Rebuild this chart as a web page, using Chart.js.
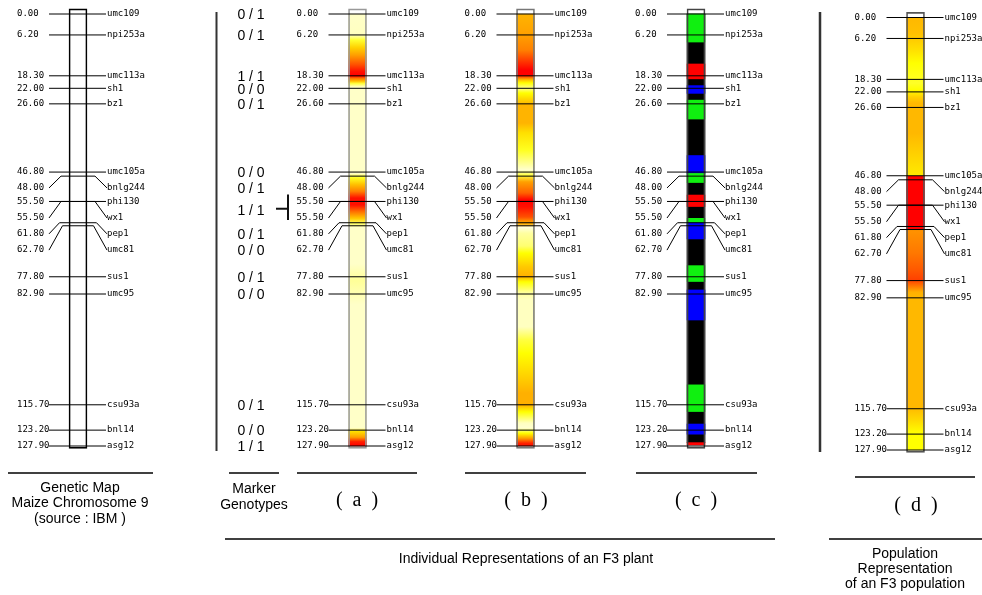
<!DOCTYPE html>
<html>
<head>
<meta charset="utf-8">
<script src="https://cdn.jsdelivr.net/npm/chart.js@4/dist/chart.umd.min.js"></script>
<style>
    html, body { margin: 0; padding: 0; background: #fff; }
    #map { display: block; }
</style>
</head>
<body>
<canvas id="map" width="982" height="595"></canvas>
<script>
// Maize chromosome 9 markers (IBM map), positions in cM
const markerNames = ['umc109', 'npi253a', 'umc113a', 'sh1', 'bz1', 'umc105a', 'bnlg244', 'phi130',
    'wx1', 'pep1', 'umc81', 'sus1', 'umc95', 'csu93a', 'bnl14', 'asg12'];
const markerCm = [0.0, 6.2, 18.3, 22.0, 26.6, 46.8, 48.0, 55.5, 55.5, 61.8, 62.7, 77.8, 82.9, 115.7, 123.2, 127.9];
// label rows get pushed down where markers crowd together
const labelCm = [0.0, 6.2, 18.3, 22.0, 26.6, 46.8, 51.5, 55.5, 60.4, 65.1, 69.9, 77.8, 82.9, 115.7, 123.2, 127.9];

// F3 plant genotype per marker (wx1 shares the call with phi130)
const genotypes = ['0 / 1', '0 / 1', '1 / 1', '0 / 0', '0 / 1', '0 / 0', '0 / 1', '1 / 1',
    null, '0 / 1', '0 / 0', '0 / 1', '0 / 0', '0 / 1', '0 / 0', '1 / 1'];

// (c) genotype blocks along the chromosome, the rest is unresolved (black)
const blockStart = [0.0, 14.8, 21.2, 25.5, 41.9, 47.2, 53.6, 60.5, 61.8, 74.5, 81.7, 109.8, 121.4, 126.9];
const blockEnd = [8.3, 19.2, 23.5, 31.1, 47.2, 49.9, 57.0, 61.8, 66.6, 79.2, 90.6, 117.7, 124.4, 127.6];
const blockCall = ['0 / 1', '1 / 1', '0 / 0', '0 / 1', '0 / 0', '0 / 1', '1 / 1', '0 / 1', '0 / 0',
    '0 / 1', '0 / 0', '0 / 1', '0 / 0', '1 / 1'];
const unresolvedEnd = 126.9;

// colour ramps for (a), (b), (d): [cM, colour]
const shadeA = [[0, '#ffffc8'], [6.2, '#ffffc0'], [7.7, '#ffff30'], [10, '#ffd000'], [12.1, '#ffa000'],
    [15, '#ff5000'], [17, '#ff1000'], [18.3, '#ff0000'], [19.0, '#ff7000'], [19.9, '#ffc000'],
    [20.6, '#ffff40'], [21.6, '#ffffc8'], [47.2, '#ffffc8'], [48.5, '#ffff20'], [50.5, '#ffc000'],
    [52.5, '#ff8000'], [54.5, '#ff1000'], [56.5, '#ff1000'], [58.5, '#ff7000'], [60.5, '#ffc800'],
    [62, '#ffff60'], [63.2, '#ffffc8'], [74, '#ffffc8'], [79, '#ffff98'], [86, '#ffffc8'],
    [122.6, '#ffffc8'], [123.6, '#ffe000'], [125.3, '#ffa000'], [126.6, '#ff2000'], [127.9, '#ff0000']];
const shadeB = [[0, '#ffb400'], [6.2, '#ffa000'], [10.7, '#ff8000'], [13.6, '#ff4000'], [16.6, '#ff0000'],
    [18.0, '#ff0000'], [18.7, '#ff6000'], [19.5, '#ffc000'], [20.4, '#ffff00'], [22.0, '#ffff90'],
    [23.4, '#ffff00'], [25.5, '#ffd000'], [26.9, '#ffb400'], [32.3, '#ffb400'], [35.2, '#ffe000'],
    [40.3, '#ffff20'], [44.1, '#ffff90'], [46.2, '#ffffd0'], [47.7, '#ffff40'], [49.7, '#ffa000'],
    [53.0, '#ff6000'], [55.1, '#ff0000'], [57.1, '#ff1000'], [60.1, '#ff5000'], [61.6, '#ffa000'],
    [62.2, '#ffb000'], [63.1, '#ffffe0'], [64.9, '#ffffa0'], [68.7, '#ffff70'], [70.8, '#ffff00'],
    [74.9, '#ffc800'], [77.8, '#ffb000'], [79.3, '#ffff00'], [82.6, '#ffffa0'], [84.7, '#ffffc0'],
    [92.6, '#ffffc0'], [96.5, '#ffff40'], [100.4, '#ffff00'], [107.5, '#ffd000'], [112.2, '#ffb000'],
    [115.7, '#ffb000'], [117.8, '#ffff00'], [121.1, '#ffffc0'], [122.6, '#ffffd0'], [124.1, '#ffff00'],
    [125.6, '#ffa000'], [127.1, '#ff2000'], [127.9, '#ff1000']];
const shadeD = [[0, '#ffb800'], [4.6, '#ffc000'], [9.6, '#ffe000'], [13.5, '#ffff00'], [19.4, '#ffff28'],
    [21.4, '#ffff00'], [23.5, '#ffd000'], [25.3, '#ffb800'], [34.2, '#ffb800'], [44.2, '#ffe000'],
    [46.7, '#ffe800'], [46.9, '#ff0000'], [62.4, '#ff0000'], [62.6, '#ff9400'], [69.6, '#ff7800'],
    [74.7, '#ff5800'], [77.6, '#ff4000'], [79.7, '#ff8000'], [81.2, '#ffb000'], [83, '#ffb800'],
    [115.2, '#ffb800'], [119, '#ffd800'], [122.9, '#ffff00'], [127.9, '#ffff00']];

const callColours = { '0 / 1': '#10f010', '1 / 1': '#ff0000', '0 / 0': '#0000ff' };

// layout
const panels = [
    { cx: 78, axis: 'y', edge: '#000000' },
    { cx: 357.5, axis: 'y', edge: '#999999', shade: shadeA },
    { cx: 525.5, axis: 'y', edge: '#777777', shade: shadeB },
    { cx: 696, axis: 'y', edge: '#444444' },
    { cx: 915.5, axis: 'y2', edge: '#555555', shade: shadeD }
];
const bendHalf = { bnlg244: 17, wx1: 17, pep1: 18.5, umc81: 15.5 };
const pxPerCm = 432 / 127.9;
const pxPerCm2 = 432.5 / 127.9;

function markerLinePoints(cx) {
    const pts = [];
    markerNames.forEach((name, i) => {
        const cm = markerCm[i];
        const lab = labelCm[i];
        if (lab === cm) {
            pts.push({ x: cx - 29, y: cm }, { x: cx + 28, y: cm });
        } else {
            const h = bendHalf[name];
            pts.push({ x: cx - 29, y: lab }, { x: cx - h, y: cm }, { x: cx + h, y: cm }, { x: cx + 29, y: lab });
        }
        pts.push({ x: NaN, y: NaN });
    });
    return pts;
}

function shade(stops, axisId) {
    return (context) => {
        const chart = context.chart;
        const scale = chart.scales[axisId];
        if (!chart.chartArea || !scale) return stops[0][1];
        const top = scale.getPixelForValue(stops[0][0]);
        const bottom = scale.getPixelForValue(stops[stops.length - 1][0]);
        const g = chart.ctx.createLinearGradient(0, top, 0, bottom);
        stops.forEach(([cm, col]) => {
            g.addColorStop((scale.getPixelForValue(cm) - top) / (bottom - top), col);
        });
        return g;
    };
}

const barBase = { type: 'bar', barThickness: 18, grouped: false, borderSkipped: false };
const datasets = [];

panels.forEach((p) => {
    // marker ticks
    datasets.push({
        type: 'line', yAxisID: p.axis, order: 0,
        data: markerLinePoints(p.cx),
        borderColor: '#000', borderWidth: 1, pointRadius: 0, spanGaps: false, fill: false
    });
    // chromosome outline
    datasets.push(Object.assign({}, barBase, {
        yAxisID: p.axis, order: 1,
        data: [{ x: p.cx, y: [-1.5, 128.6] }],
        backgroundColor: 'rgba(0,0,0,0)', borderColor: p.edge, borderWidth: 1
    }));
    if (p.shade) {
        datasets.push(Object.assign({}, barBase, {
            yAxisID: p.axis, order: 3,
            data: [{ x: p.cx, y: [p.shade[0][0], p.shade[p.shade.length - 1][0]] }],
            backgroundColor: shade(p.shade, p.axis), borderWidth: 0
        }));
    }
});

// (c): unresolved stretch, then genotype blocks on top
const pc = panels[3];
datasets.push(Object.assign({}, barBase, {
    yAxisID: 'y', order: 3,
    data: [{ x: pc.cx, y: [0, unresolvedEnd] }],
    backgroundColor: '#000', borderWidth: 0
}));
datasets.push(Object.assign({}, barBase, {
    yAxisID: 'y', order: 2,
    data: blockStart.map((s, i) => ({ x: pc.cx, y: [s, blockEnd[i]] })),
    backgroundColor: blockCall.map(c => callColours[c]), borderWidth: 0
}));

function line(ctx, x1, y1, x2, y2, w, col) {
    ctx.beginPath();
    ctx.lineWidth = w;
    ctx.strokeStyle = col;
    ctx.moveTo(x1, y1);
    ctx.lineTo(x2, y2);
    ctx.stroke();
}

const figureText = {
    id: 'figureText',
    afterDatasetsDraw(chart) {
        const ctx = chart.ctx;
        const y = chart.scales.y;
        const y2 = chart.scales.y2;
        ctx.save();
        ctx.fillStyle = '#000';
        ctx.textBaseline = 'middle';

        // cM values and marker names beside each chromosome
        ctx.font = '9px "DejaVu Sans Mono"';
        ctx.textAlign = 'left';
        panels.forEach((p) => {
            const s = chart.scales[p.axis];
            markerNames.forEach((name, i) => {
                const py = s.getPixelForValue(labelCm[i]);
                ctx.fillText(markerCm[i].toFixed(2), p.cx - 61, py);
                ctx.fillText(name, p.cx + 29, py);
            });
        });

        // marker genotype column
        line(ctx, 216.5, 12, 216.5, 451, 2, '#333');
        ctx.font = '14px "Liberation Sans", Arial, sans-serif';
        ctx.textAlign = 'center';
        genotypes.forEach((g, i) => {
            if (g === null) return;
            let cm = labelCm[i];
            if (genotypes[i + 1] === null) {
                cm = (labelCm[i] + labelCm[i + 1]) / 2;
                const top = y.getPixelForValue(labelCm[i]) - 7;
                const bot = y.getPixelForValue(labelCm[i + 1]) + 2;
                const mid = y.getPixelForValue(cm) - 1;
                line(ctx, 288, top, 288, bot, 2, '#111');
                line(ctx, 276, mid, 288, mid, 2, '#111');
            }
            ctx.fillText(g, 251, y.getPixelForValue(cm) + 1.5);
        });

        // population panel rule
        line(ctx, 820, y2.getPixelForValue(-1.6), 820, y2.getPixelForValue(128.5), 2.5, '#333');

        // captions
        [[8, 153, 473], [229, 279, 473], [297, 417, 473], [465, 586, 473], [636, 757, 473],
         [855, 975, 477], [225, 775, 539], [829, 982, 539]].forEach(([a, b, h]) => line(ctx, a, h, b, h, 1.5, '#000'));

        ctx.font = '14px "Liberation Sans", Arial, sans-serif';
        ctx.fillText('Genetic Map', 80, 488);
        ctx.fillText('Maize Chromosome 9', 80, 503);
        ctx.fillText('(source : IBM )', 80, 519);
        ctx.fillText('Marker', 254, 489);
        ctx.fillText('Genotypes', 254, 505);
        ctx.fillText('Individual Representations of an F3 plant', 526, 559);
        ctx.fillText('Population', 905, 554);
        ctx.fillText('Representation', 905, 569);
        ctx.fillText('of an F3 population', 905, 584);

        ctx.font = '20px "Liberation Serif", "Times New Roman", serif';
        ctx.fillText('(  a  )', 357, 501);
        ctx.fillText('(  b  )', 526, 501);
        ctx.fillText('(  c  )', 696, 501);
        ctx.fillText('(  d  )', 916, 506);
        ctx.restore();
    }
};

const yMin = -14 / pxPerCm;
const y2Min = -17.5 / pxPerCm2;

new Chart(document.getElementById('map'), {
    type: 'bar',
    data: { datasets: datasets },
    options: {
        responsive: false,
        animation: false,
        devicePixelRatio: 1,
        events: [],
        layout: { padding: 0 },
        plugins: { legend: { display: false }, tooltip: { enabled: false } },
        scales: {
            x: { type: 'linear', min: 0, max: 982, offset: false, display: false },
            y: { type: 'linear', min: yMin, max: yMin + 595 / pxPerCm, reverse: true, display: false },
            y2: { type: 'linear', min: y2Min, max: y2Min + 595 / pxPerCm2, reverse: true, display: false }
        }
    },
    plugins: [figureText]
});
</script>
</body>
</html>
